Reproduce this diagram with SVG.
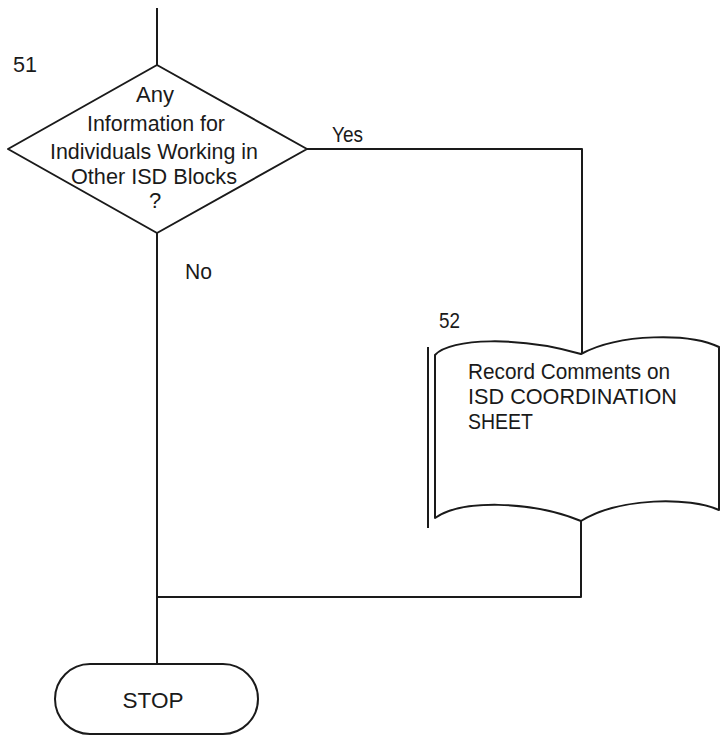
<svg xmlns="http://www.w3.org/2000/svg" width="721" height="736" viewBox="0 0 721 736">
<style>
.s{fill:none;stroke:#1a1a1a;stroke-width:2;stroke-linejoin:round}
.t{font-family:"Liberation Sans",Arial,sans-serif;font-size:22px;fill:#1a1a1a}
.c{text-anchor:middle}
</style>
<rect width="721" height="736" fill="#fff"/>
<g id="connectors">
<path class="s" d="M157,8 V65"/>
<path class="s" d="M307,149 H582 V354"/>
<path class="s" d="M157,233 V664"/>
<path class="s" d="M581,521 V597 H157"/>
</g>
<g id="node51">
<text class="t" x="13" y="72" textLength="24" lengthAdjust="spacingAndGlyphs">51</text>
<path class="s" d="M157,65 L307,149 L157,233 L8,149 Z"/>
<text class="t c" x="155" y="102" textLength="38" lengthAdjust="spacingAndGlyphs">Any</text>
<text class="t c" x="156" y="131" textLength="138" lengthAdjust="spacingAndGlyphs">Information for</text>
<text class="t c" x="154" y="159" textLength="208" lengthAdjust="spacingAndGlyphs">Individuals Working in</text>
<text class="t c" x="154" y="184" textLength="166" lengthAdjust="spacingAndGlyphs">Other ISD Blocks</text>
<text class="t c" x="155" y="208" font-size="19">?</text>
<text class="t" x="332" y="142" textLength="31" lengthAdjust="spacingAndGlyphs">Yes</text>
<text class="t" x="185" y="279" textLength="27" lengthAdjust="spacingAndGlyphs">No</text>
</g>
<g id="node52">
<text class="t" x="439" y="328" textLength="21" lengthAdjust="spacingAndGlyphs">52</text>
<path class="s" d="M428,347 V528"/>
<path class="s" d="M435,355 C450,338 520,336 581,354 C620,333 690,333 719,347 L719,510 C690,497 620,497 581,521 C530,500 460,500 435,518 Z"/>
<text class="t" x="468" y="379" textLength="202" lengthAdjust="spacingAndGlyphs">Record Comments on</text>
<text class="t" x="468" y="404" textLength="209" lengthAdjust="spacingAndGlyphs">ISD COORDINATION</text>
<text class="t" x="468" y="429" textLength="65" lengthAdjust="spacingAndGlyphs">SHEET</text>
</g>
<g id="stop">
<rect class="s" x="55" y="664" width="203" height="70" rx="35" ry="35"/>
<text class="t c" x="153" y="708" textLength="61" lengthAdjust="spacingAndGlyphs">STOP</text>
</g>
</svg>
